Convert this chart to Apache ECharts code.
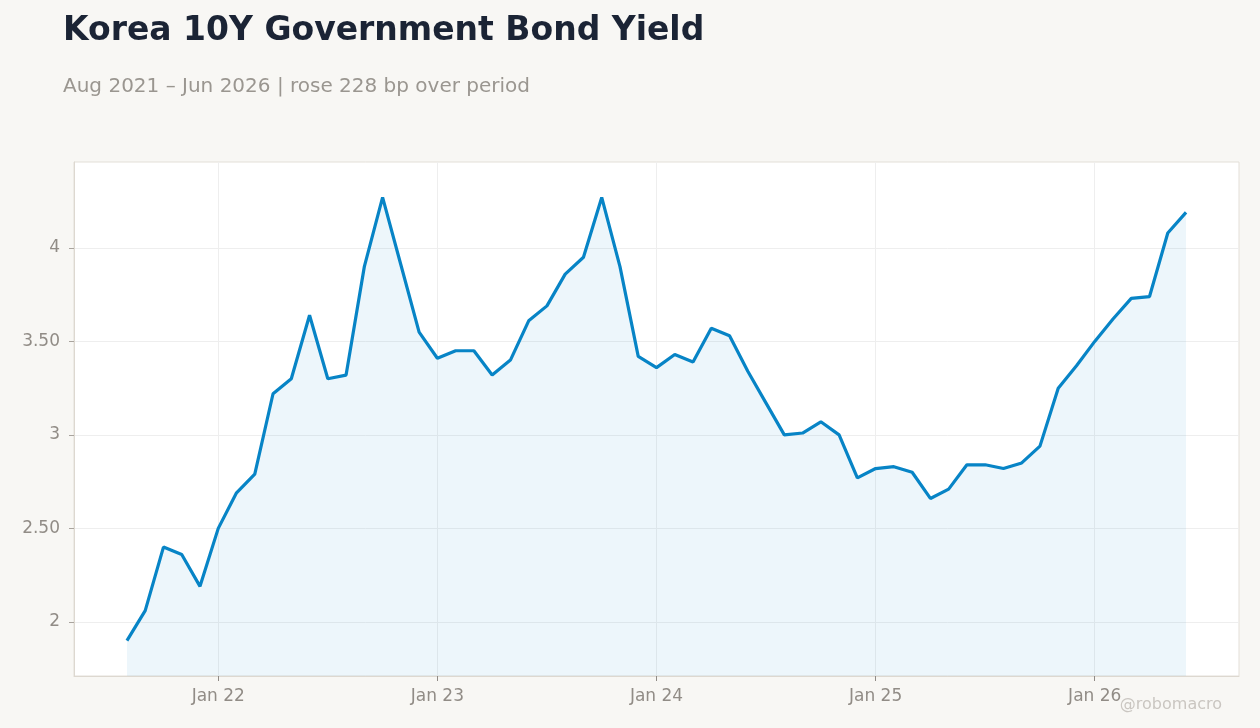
<!DOCTYPE html>
<html>
<head>
<meta charset="utf-8">
<script src="https://cdn.jsdelivr.net/npm/echarts@6/dist/echarts.min.js"></script>
<style>
html,body{margin:0;padding:0;background:#f8f7f4;}
#chart{width:1260px;height:728px;}
</style>
</head>
<body>
<div id="chart"></div>
<script>
// 月份
var months = [
    '2021-08','2021-09','2021-10','2021-11','2021-12',
    '2022-01','2022-02','2022-03','2022-04','2022-05','2022-06','2022-07','2022-08','2022-09','2022-10','2022-11','2022-12',
    '2023-01','2023-02','2023-03','2023-04','2023-05','2023-06','2023-07','2023-08','2023-09','2023-10','2023-11','2023-12',
    '2024-01','2024-02','2024-03','2024-04','2024-05','2024-06','2024-07','2024-08','2024-09','2024-10','2024-11','2024-12',
    '2025-01','2025-02','2025-03','2025-04','2025-05','2025-06','2025-07','2025-08','2025-09','2025-10','2025-11','2025-12',
    '2026-01','2026-02','2026-03','2026-04','2026-05','2026-06'
];
// 10年期国债收益率 (%)
var yields = [
    1.90, 2.06, 2.40, 2.36, 2.19,
    2.50, 2.69, 2.79, 3.22, 3.30, 3.64, 3.30, 3.32, 3.90, 4.27, 3.91, 3.55,
    3.41, 3.45, 3.45, 3.32, 3.40, 3.61, 3.69, 3.86, 3.95, 4.27, 3.90, 3.42,
    3.36, 3.43, 3.39, 3.57, 3.53, 3.34, 3.17, 3.00, 3.01, 3.07, 3.00, 2.77,
    2.82, 2.83, 2.80, 2.66, 2.71, 2.84, 2.84, 2.82, 2.85, 2.94, 3.25, 3.37,
    3.50, 3.62, 3.73, 3.74, 4.08, 4.19
];
// x轴刻度 (1月)
var xTickMonths = ['2022-01', '2023-01', '2024-01', '2025-01', '2026-01'];
var xTickLabels = ['Jan 22', 'Jan 23', 'Jan 24', 'Jan 25', 'Jan 26'];
// y轴刻度
var yTicks = [2, 2.5, 3, 3.5, 4];

// 月份序号 (2021-01 = 0)
function monthIndex(s){
    var p = s.split('-');
    return (parseInt(p[0]) - 2021) * 12 + parseInt(p[1]) - 1;
}

var seriesData = [];
for(var i=0;i<months.length;i++){
    seriesData.push([monthIndex(months[i]), yields[i]]);
}
var xTicks = xTickMonths.map(monthIndex);
var first = seriesData[0][0];
var last = seriesData[seriesData.length-1][0];
var pad = (last - first) * 0.05;

var dom = document.getElementById('chart');
var myChart = echarts.init(dom);
var font = 'DejaVu Sans';

var option = {
    backgroundColor: '#f8f7f4',
    animation: false,
    title: [
        {
            text: 'Korea 10Y Government Bond Yield',
            left: 58,
            top: 10,
            textStyle: {
                fontFamily: font,
                fontSize: 33,
                fontWeight: 'bold',
                color: '#1b2435'
            }
        },
        {
            text: 'Aug 2021 \u2013 Jun 2026 | rose 228 bp over period',
            left: 58,
            top: 72,
            textStyle: {
                fontFamily: font,
                fontSize: 20,
                fontWeight: 'normal',
                color: '#9a9690'
            }
        }
    ],
    grid: {
        left: 74,
        right: 21,
        top: 162,
        bottom: 52,
        show: true,
        backgroundColor: '#ffffff',
        borderColor: '#e3dfd8',
        borderWidth: 1
    },
    xAxis: {
        type: 'value',
        min: first - pad,
        max: last + pad,
        axisLine: { show: true, lineStyle: { color: '#ddd8d0' } },
        axisTick: { show: true, length: 5, customValues: xTicks, lineStyle: { color: '#8f8a85' } },
        splitLine: { show: true, customValues: xTicks, lineStyle: { color: '#eeeeee' } },
        axisLabel: {
            margin: 12,
            fontFamily: font,
            fontSize: 17,
            color: '#918c86',
            customValues: xTicks,
            formatter: function(v){
                var k = xTicks.indexOf(Math.round(v));
                return k >= 0 ? xTickLabels[k] : '';
            }
        }
    },
    yAxis: {
        type: 'value',
        min: function(v){ return v.min - (v.max - v.min) * 0.08; },
        max: function(v){ return v.max + (v.max - v.min) * 0.08; },
        axisLine: { show: true, lineStyle: { color: '#ddd8d0' } },
        axisTick: { show: true, length: 5, customValues: yTicks, lineStyle: { color: '#a8a39d' } },
        splitLine: { show: true, customValues: yTicks, lineStyle: { color: '#eeeeee' } },
        axisLabel: {
            margin: 14,
            fontFamily: font,
            fontSize: 17,
            color: '#918c86',
            customValues: yTicks,
            formatter: function(v){
                if(Math.abs(v - Math.round(v)) < 1e-6) return String(Math.round(v));
                return v.toFixed(2);
            }
        }
    },
    graphic: [
        {
            type: 'text',
            right: 38,
            top: 697,
            style: {
                text: '@robomacro',
                fontFamily: font,
                fontSize: 16,
                fill: '#cac6c1'
            }
        }
    ],
    series: [
        {
            name: 'Korea 10Y',
            type: 'line',
            data: seriesData,
            showSymbol: false,
            symbol: 'none',
            lineStyle: { color: '#0784c6', width: 3.2 },
            areaStyle: { color: 'rgba(7,132,198,0.1)' },
            z: 3
        }
    ]
};
if (option && typeof option === "object") {
    myChart.setOption(option, true);
}
</script>
</body>
</html>
